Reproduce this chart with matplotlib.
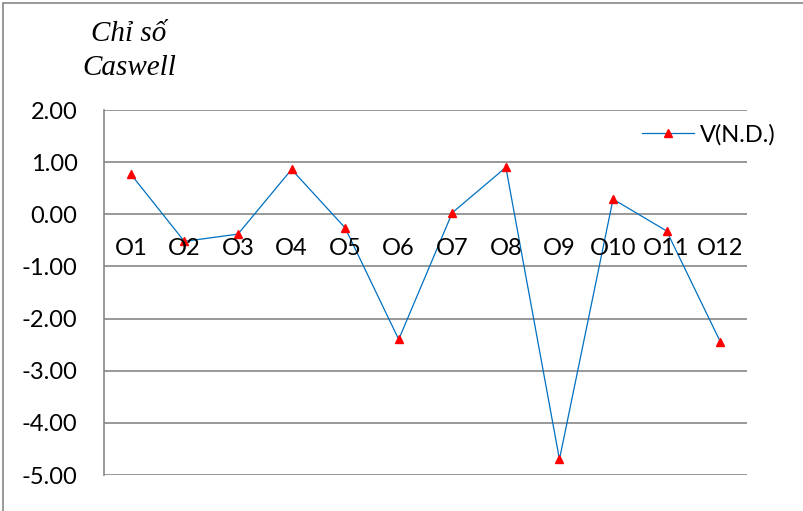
import matplotlib.pyplot as plt
from matplotlib.patches import Rectangle

# data
categories = ['O1', 'O2', 'O3', 'O4', 'O5', 'O6', 'O7', 'O8', 'O9', 'O10', 'O11', 'O12']
values = [0.77, -0.52, -0.38, 0.86, -0.26, -2.40, 0.03, 0.90, -4.70, 0.29, -0.32, -2.44]
y_ticks = [2, 1, 0, -1, -2, -3, -4, -5]
series_name = 'V(N.D.)'

label_font = 'Lato'
label_size = 17
grid_color = '#868686'

fig = plt.figure(figsize=(8.04, 5.11), dpi=100)
ax = fig.add_axes([104 / 804, 1 - 475 / 511, (747 - 104) / 804, (475 - 110) / 511])

x = list(range(len(categories)))
ax.plot(x, values, color='#0070C0', linewidth=0.9, marker='^', markersize=6,
        markerfacecolor='#FF0000', markeredgecolor='#FF0000', label=series_name)

ax.set_xlim(-0.5, len(categories) - 0.5)
ax.set_ylim(-5, 2)
ax.set_yticks(y_ticks)
ax.set_yticklabels([f'{v:.2f}' for v in y_ticks], fontsize=label_size, family=label_font)
ax.tick_params(axis='y', length=0, pad=19)

# horizontal gridlines like Excel
for v in y_ticks:
    ax.axhline(v, color=grid_color, linewidth=1.2, zorder=0)

# category labels sit just under the zero line
ax.set_xticks([])
for i, c in enumerate(categories):
    ax.text(i, -0.66, c, ha='center', va='center', fontsize=label_size, family=label_font)

for s in ['top', 'right', 'bottom']:
    ax.spines[s].set_visible(False)
ax.spines['left'].set_color(grid_color)
ax.spines['left'].set_linewidth(1.2)

fig.text(129 / 804, 1 - 34 / 511, 'Chỉ số', ha='center', va='center',
         fontsize=21, style='italic', family='Liberation Serif')
fig.text(129 / 804, 1 - 68 / 511, 'Caswell', ha='center', va='center',
         fontsize=21, style='italic', family='Liberation Serif')

leg = ax.legend(loc='center left', bbox_to_anchor=(538 / 643, 1 - 25 / 365), frameon=False,
                prop={'family': label_font, 'size': label_size}, handlelength=2.2,
                handletextpad=0.25, borderaxespad=0, borderpad=0)

# outer chart border
fig.patches.append(Rectangle((3 / 804, -0.05), 1.1, 1 - 3 / 511 + 0.05,
                             transform=fig.transFigure, fill=False,
                             edgecolor=grid_color, linewidth=1.2))

fig.savefig('out.png', dpi=100)
